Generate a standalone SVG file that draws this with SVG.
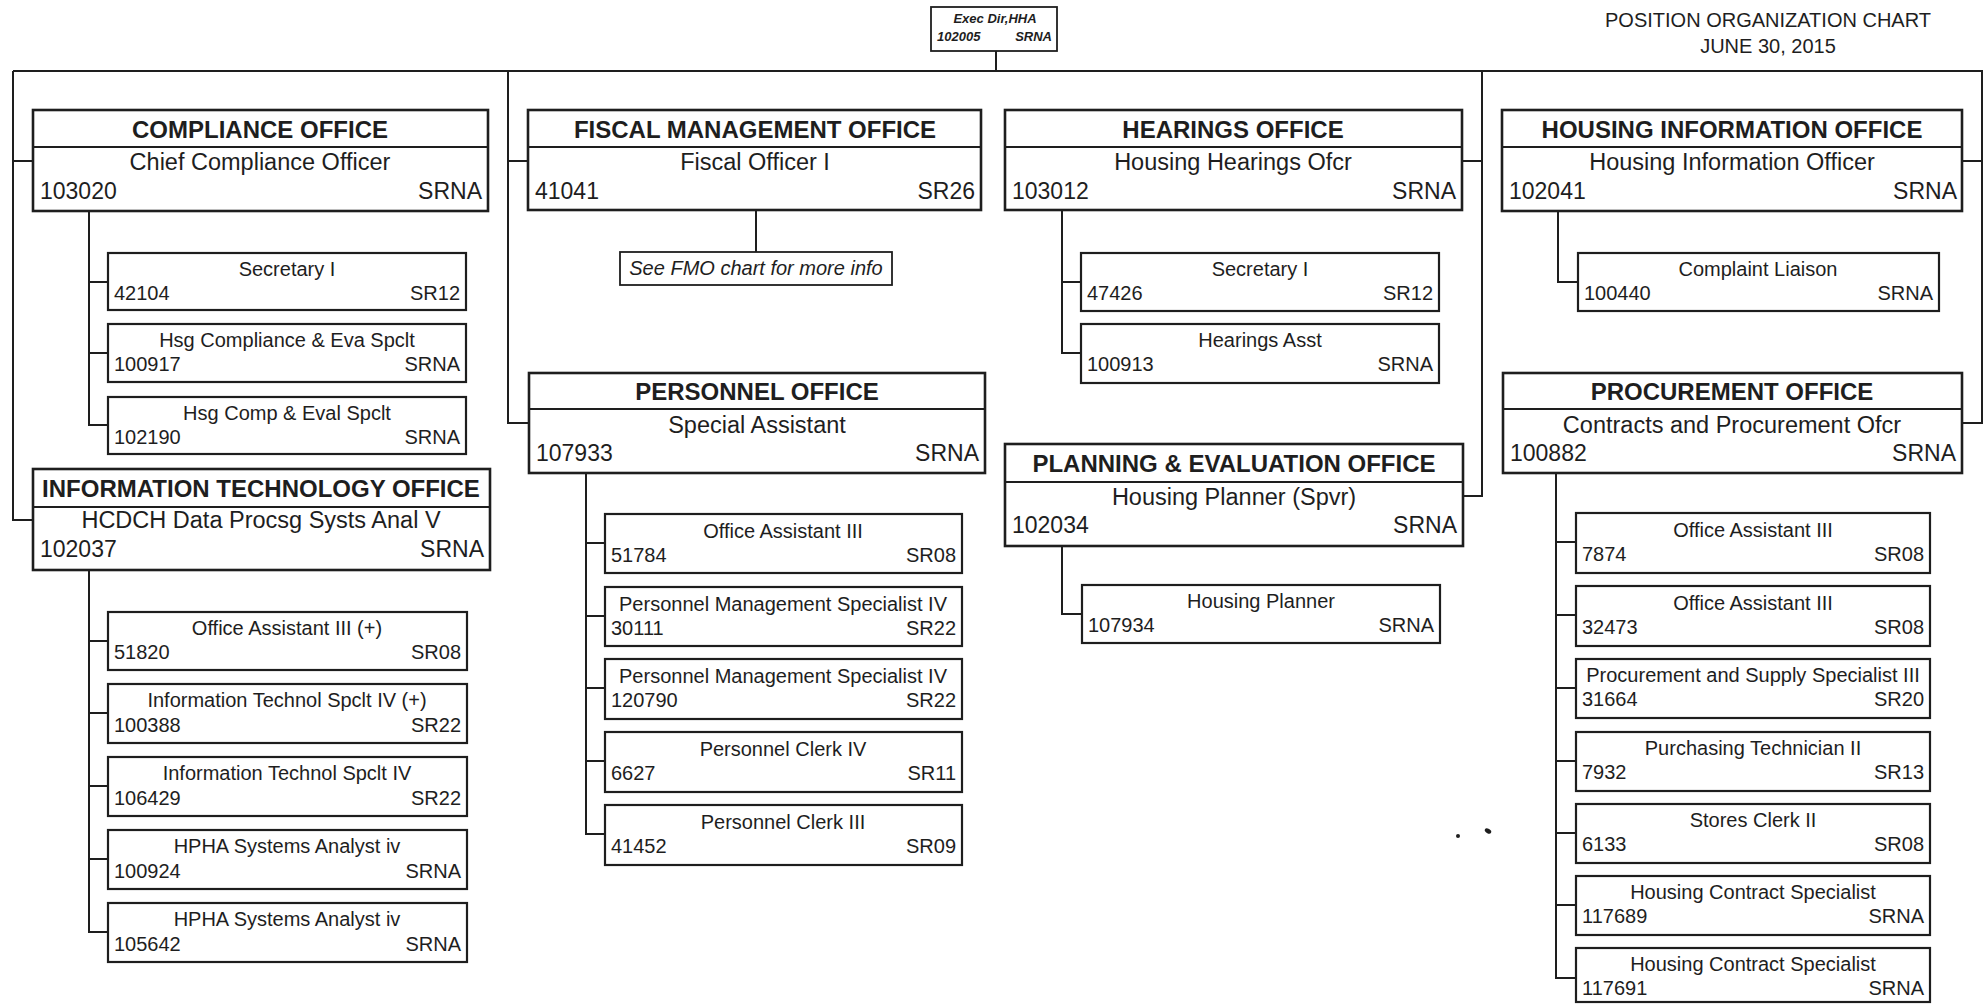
<svg xmlns="http://www.w3.org/2000/svg" width="1984" height="1004" viewBox="0 0 1984 1004">
<style>
text{font-family:"Liberation Sans",Arial,sans-serif;fill:#1e1e1e}
.ob{fill:#fff;stroke:#1e1e1e;stroke-width:2.6}
.sb{fill:#fff;stroke:#1e1e1e;stroke-width:2.2}
.dv{stroke:#1e1e1e;stroke-width:1.8}
.hd{font-size:24px;font-weight:bold;text-anchor:middle}
.tt{font-size:23.5px;text-anchor:middle}
.nl{font-size:23px}
.nr{font-size:23px;text-anchor:end}
.st{font-size:20px;text-anchor:middle}
.sl{font-size:20px}
.sr{font-size:20px;text-anchor:end}
.cn{fill:none;stroke:#1e1e1e;stroke-width:2}
</style>
<rect width="1984" height="1004" fill="#fff"/>

<g id="connectors" class="cn">
<path d="M13 71 H1983"/>
<path d="M996 51 V71"/>
<path d="M13 71 V520 H33 M13 161 H33"/>
<path d="M508 71 V423 H529 M508 161 H528"/>
<path d="M1482 71 V496 H1463 M1482 161 H1462"/>
<path d="M1982 71 V423 H1962 M1982 161 H1962"/>
<path d="M89 211 V425 H108 M89 282 H108 M89 353 H108"/>
<path d="M89 570 V932 H108 M89 641 H108 M89 713 H108 M89 786 H108 M89 859 H108"/>
<path d="M756 210 V252"/>
<path d="M586 473 V834 H605 M586 543 H605 M586 616 H605 M586 688 H605 M586 761 H605"/>
<path d="M1062 210 V353 H1081 M1062 282 H1081"/>
<path d="M1062 546 V614 H1082"/>
<path d="M1558 211 V282 H1578"/>
<path d="M1556 473 V978 H1576 M1556 542 H1576 M1556 615 H1576 M1556 688 H1576 M1556 761 H1576 M1556 833 H1576 M1556 905 H1576"/>
</g>

<g id="title">
<text x="1768" y="27" style="font-size:20px;text-anchor:middle">POSITION ORGANIZATION CHART</text>
<text x="1768" y="53" style="font-size:20px;text-anchor:middle">JUNE 30, 2015</text>
</g>

<g id="exec-dir">
<rect class="sb" x="931" y="7" width="126" height="44" style="stroke-width:1.8"/>
<text x="995" y="23" style="font-size:13px;font-weight:bold;font-style:italic;text-anchor:middle">Exec Dir,HHA</text>
<text x="937" y="41" style="font-size:13px;font-weight:bold;font-style:italic">102005</text>
<text x="1052" y="41" style="font-size:13px;font-weight:bold;font-style:italic;text-anchor:end">SRNA</text>
</g>

<g id="compliance-office">
<rect class="ob" x="33" y="110" width="455" height="101"/>
<line class="dv" x1="33" y1="147" x2="488" y2="147"/>
<text class="hd" x="260" y="138">COMPLIANCE OFFICE</text>
<text class="tt" x="260" y="170">Chief Compliance Officer</text>
<text class="nl" x="40" y="199">103020</text>
<text class="nr" x="482" y="199">SRNA</text>
</g>

<g id="fiscal-management-office">
<rect class="ob" x="528" y="110" width="453" height="100"/>
<line class="dv" x1="528" y1="147" x2="981" y2="147"/>
<text class="hd" x="755" y="138">FISCAL MANAGEMENT OFFICE</text>
<text class="tt" x="755" y="170">Fiscal Officer I</text>
<text class="nl" x="535" y="199">41041</text>
<text class="nr" x="975" y="199">SR26</text>
</g>

<g id="hearings-office">
<rect class="ob" x="1005" y="110" width="457" height="100"/>
<line class="dv" x1="1005" y1="147" x2="1462" y2="147"/>
<text class="hd" x="1233" y="138">HEARINGS OFFICE</text>
<text class="tt" x="1233" y="170">Housing Hearings Ofcr</text>
<text class="nl" x="1012" y="199">103012</text>
<text class="nr" x="1456" y="199">SRNA</text>
</g>

<g id="housing-information-office">
<rect class="ob" x="1502" y="110" width="460" height="101"/>
<line class="dv" x1="1502" y1="147" x2="1962" y2="147"/>
<text class="hd" x="1732" y="138">HOUSING INFORMATION OFFICE</text>
<text class="tt" x="1732" y="170">Housing Information Officer</text>
<text class="nl" x="1509" y="199">102041</text>
<text class="nr" x="1957" y="199">SRNA</text>
</g>

<g id="personnel-office">
<rect class="ob" x="529" y="373" width="456" height="100"/>
<line class="dv" x1="529" y1="409" x2="985" y2="409"/>
<text class="hd" x="757" y="400">PERSONNEL OFFICE</text>
<text class="tt" x="757" y="433">Special Assistant</text>
<text class="nl" x="536" y="461">107933</text>
<text class="nr" x="979" y="461">SRNA</text>
</g>

<g id="planning-evaluation-office">
<rect class="ob" x="1005" y="444" width="458" height="102"/>
<line class="dv" x1="1005" y1="482" x2="1463" y2="482"/>
<text class="hd" x="1234" y="472">PLANNING &amp; EVALUATION OFFICE</text>
<text class="tt" x="1234" y="505">Housing Planner (Spvr)</text>
<text class="nl" x="1012" y="533">102034</text>
<text class="nr" x="1457" y="533">SRNA</text>
</g>

<g id="information-technology-office">
<rect class="ob" x="33" y="469" width="457" height="101"/>
<line class="dv" x1="33" y1="507" x2="490" y2="507"/>
<text class="hd" x="261" y="497">INFORMATION TECHNOLOGY OFFICE</text>
<text class="tt" x="261" y="528">HCDCH Data Procsg Systs Anal V</text>
<text class="nl" x="40" y="557">102037</text>
<text class="nr" x="484" y="557">SRNA</text>
</g>

<g id="procurement-office">
<rect class="ob" x="1503" y="373" width="459" height="100"/>
<line class="dv" x1="1503" y1="409" x2="1962" y2="409"/>
<text class="hd" x="1732" y="400">PROCUREMENT OFFICE</text>
<text class="tt" x="1732" y="433">Contracts and Procurement Ofcr</text>
<text class="nl" x="1510" y="461">100882</text>
<text class="nr" x="1956" y="461">SRNA</text>
</g>

<g id="fmo-note">
<rect class="sb" x="620" y="252" width="272" height="33" style="stroke-width:1.8"/>
<text x="756" y="275" style="font-size:20px;font-style:italic;text-anchor:middle">See FMO chart for more info</text>
</g>

<!-- Compliance subordinates -->
<g id="pos-42104"><rect class="sb" x="108" y="253" width="358" height="57"/><text class="st" x="287" y="276">Secretary I</text><text class="sl" x="114" y="300">42104</text><text class="sr" x="460" y="300">SR12</text></g>
<g id="pos-100917"><rect class="sb" x="108" y="324" width="358" height="58"/><text class="st" x="287" y="347">Hsg Compliance &amp; Eva Spclt</text><text class="sl" x="114" y="371">100917</text><text class="sr" x="460" y="371">SRNA</text></g>
<g id="pos-102190"><rect class="sb" x="108" y="397" width="358" height="57"/><text class="st" x="287" y="420">Hsg Comp &amp; Eval Spclt</text><text class="sl" x="114" y="444">102190</text><text class="sr" x="460" y="444">SRNA</text></g>

<!-- IT subordinates -->
<g id="pos-51820"><rect class="sb" x="108" y="612" width="359" height="58"/><text class="st" x="287" y="635">Office Assistant III (+)</text><text class="sl" x="114" y="659">51820</text><text class="sr" x="461" y="659">SR08</text></g>
<g id="pos-100388"><rect class="sb" x="108" y="684" width="359" height="59"/><text class="st" x="287" y="707">Information Technol Spclt IV (+)</text><text class="sl" x="114" y="732">100388</text><text class="sr" x="461" y="732">SR22</text></g>
<g id="pos-106429"><rect class="sb" x="108" y="757" width="359" height="59"/><text class="st" x="287" y="780">Information Technol Spclt IV</text><text class="sl" x="114" y="805">106429</text><text class="sr" x="461" y="805">SR22</text></g>
<g id="pos-100924"><rect class="sb" x="108" y="830" width="359" height="59"/><text class="st" x="287" y="853">HPHA Systems Analyst iv</text><text class="sl" x="114" y="878">100924</text><text class="sr" x="461" y="878">SRNA</text></g>
<g id="pos-105642"><rect class="sb" x="108" y="903" width="359" height="59"/><text class="st" x="287" y="926">HPHA Systems Analyst iv</text><text class="sl" x="114" y="951">105642</text><text class="sr" x="461" y="951">SRNA</text></g>

<!-- Personnel subordinates -->
<g id="pos-51784"><rect class="sb" x="605" y="514" width="357" height="59"/><text class="st" x="783" y="538">Office Assistant III</text><text class="sl" x="611" y="562">51784</text><text class="sr" x="956" y="562">SR08</text></g>
<g id="pos-30111"><rect class="sb" x="605" y="587" width="357" height="59"/><text class="st" x="783" y="611">Personnel Management Specialist IV</text><text class="sl" x="611" y="635">30111</text><text class="sr" x="956" y="635">SR22</text></g>
<g id="pos-120790"><rect class="sb" x="605" y="659" width="357" height="60"/><text class="st" x="783" y="683">Personnel Management Specialist IV</text><text class="sl" x="611" y="707">120790</text><text class="sr" x="956" y="707">SR22</text></g>
<g id="pos-6627"><rect class="sb" x="605" y="732" width="357" height="60"/><text class="st" x="783" y="756">Personnel Clerk IV</text><text class="sl" x="611" y="780">6627</text><text class="sr" x="956" y="780">SR11</text></g>
<g id="pos-41452"><rect class="sb" x="605" y="805" width="357" height="60"/><text class="st" x="783" y="829">Personnel Clerk III</text><text class="sl" x="611" y="853">41452</text><text class="sr" x="956" y="853">SR09</text></g>

<!-- Hearings subordinates -->
<g id="pos-47426"><rect class="sb" x="1081" y="253" width="358" height="58"/><text class="st" x="1260" y="276">Secretary I</text><text class="sl" x="1087" y="300">47426</text><text class="sr" x="1433" y="300">SR12</text></g>
<g id="pos-100913"><rect class="sb" x="1081" y="324" width="358" height="59"/><text class="st" x="1260" y="347">Hearings Asst</text><text class="sl" x="1087" y="371">100913</text><text class="sr" x="1433" y="371">SRNA</text></g>

<!-- Planning subordinate -->
<g id="pos-107934"><rect class="sb" x="1082" y="585" width="358" height="58"/><text class="st" x="1261" y="608">Housing Planner</text><text class="sl" x="1088" y="632">107934</text><text class="sr" x="1434" y="632">SRNA</text></g>

<!-- Housing information subordinate -->
<g id="pos-100440"><rect class="sb" x="1578" y="253" width="361" height="58"/><text class="st" x="1758" y="276">Complaint Liaison</text><text class="sl" x="1584" y="300">100440</text><text class="sr" x="1933" y="300">SRNA</text></g>

<!-- Procurement subordinates -->
<g id="pos-7874"><rect class="sb" x="1576" y="513" width="354" height="60"/><text class="st" x="1753" y="537">Office Assistant III</text><text class="sl" x="1582" y="561">7874</text><text class="sr" x="1924" y="561">SR08</text></g>
<g id="pos-32473"><rect class="sb" x="1576" y="586" width="354" height="60"/><text class="st" x="1753" y="610">Office Assistant III</text><text class="sl" x="1582" y="634">32473</text><text class="sr" x="1924" y="634">SR08</text></g>
<g id="pos-31664"><rect class="sb" x="1576" y="659" width="354" height="59"/><text class="st" x="1753" y="682">Procurement and Supply Specialist III</text><text class="sl" x="1582" y="706">31664</text><text class="sr" x="1924" y="706">SR20</text></g>
<g id="pos-7932"><rect class="sb" x="1576" y="732" width="354" height="59"/><text class="st" x="1753" y="755">Purchasing Technician II</text><text class="sl" x="1582" y="779">7932</text><text class="sr" x="1924" y="779">SR13</text></g>
<g id="pos-6133"><rect class="sb" x="1576" y="804" width="354" height="59"/><text class="st" x="1753" y="827">Stores Clerk II</text><text class="sl" x="1582" y="851">6133</text><text class="sr" x="1924" y="851">SR08</text></g>
<g id="pos-117689"><rect class="sb" x="1576" y="876" width="354" height="59"/><text class="st" x="1753" y="899">Housing Contract Specialist</text><text class="sl" x="1582" y="923">117689</text><text class="sr" x="1924" y="923">SRNA</text></g>
<g id="pos-117691"><rect class="sb" x="1576" y="948" width="354" height="54"/><text class="st" x="1753" y="971">Housing Contract Specialist</text><text class="sl" x="1582" y="995">117691</text><text class="sr" x="1924" y="995">SRNA</text></g>

<g id="specks" fill="#1e1e1e">
<circle cx="1458" cy="836" r="2"/>
<ellipse cx="1488" cy="831" rx="3.5" ry="2.2" transform="rotate(30 1488 831)"/>
</g>
</svg>
